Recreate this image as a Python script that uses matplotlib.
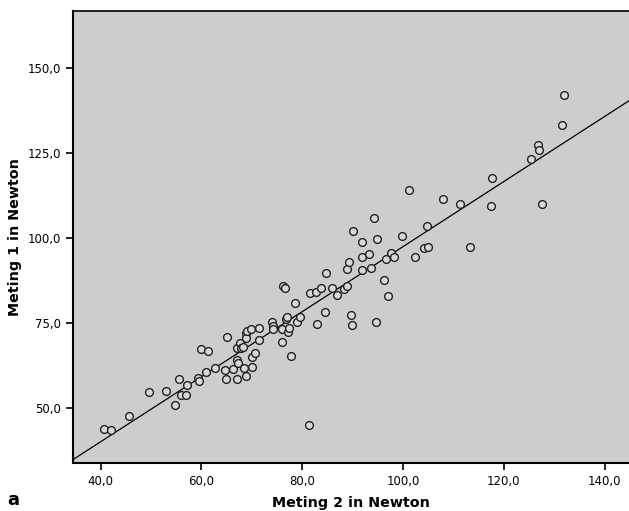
import matplotlib
matplotlib.use('Agg')
import matplotlib.pyplot as plt
import numpy as np
from matplotlib.ticker import FuncFormatter

# Meting 2 (x) en Meting 1 (y) in Newton
meting2 = [40.7, 42.0, 45.7, 49.6, 52.9, 54.7, 55.6, 56.0, 56.9, 57.1,
           59.3, 59.5, 59.9, 61.4, 61.0, 62.6, 64.6, 64.8, 65.1, 66.2,
           67.0, 67.0, 67.2, 67.0, 67.6, 67.9, 68.2, 68.5, 68.8, 68.8,
           68.9, 69.0, 69.8, 70.0, 70.1, 70.6, 71.5, 71.5, 74.1, 74.2,
           74.2, 75.9, 76.0, 76.2, 76.6, 76.7, 77.0, 77.1, 77.3, 77.7,
           78.5, 79.0, 79.5, 81.3, 81.5, 82.8, 83.0, 83.8, 84.5, 84.8,
           85.9, 86.9, 88.2, 88.8, 88.8, 89.2, 89.7, 89.9, 90.0, 91.8,
           91.9, 91.8, 93.3, 93.7, 94.2, 94.7, 94.9, 96.2, 96.6, 97.1,
           97.7, 98.3, 99.8, 101.2, 102.4, 104.1, 105.0, 104.8, 108.0, 111.3,
           113.3, 117.5, 117.7, 125.4, 126.7, 126.9, 127.6, 131.5, 132.0]
meting1 = [43.7, 43.4, 47.6, 54.6, 55.0, 50.9, 58.5, 53.7, 53.8, 56.9,
           58.9, 57.9, 67.4, 66.9, 60.5, 61.8, 61.1, 58.5, 70.8, 61.6,
           58.6, 64.2, 63.1, 67.7, 69.0, 67.6, 68.0, 61.7, 59.4, 72.1,
           70.5, 72.7, 73.2, 62.1, 65.1, 66.1, 73.4, 69.9, 75.2, 74.2,
           73.3, 73.3, 69.3, 86.0, 85.2, 76.3, 76.7, 72.3, 73.6, 65.4,
           80.9, 75.2, 76.7, 45.1, 83.7, 84.2, 74.6, 85.3, 78.2, 89.6,
           85.3, 83.3, 85.1, 85.8, 90.9, 92.9, 77.4, 74.4, 102.1, 94.3,
           98.9, 90.5, 95.4, 91.1, 105.8, 75.4, 99.7, 87.7, 93.7, 82.9,
           95.5, 94.3, 100.5, 114.0, 94.4, 97.1, 97.4, 103.6, 111.6, 110.0,
           97.4, 109.3, 117.7, 123.2, 127.4, 126.0, 110.0, 133.4, 142.1]

x_ticks = [40, 60, 80, 100, 120, 140]
y_ticks = [50, 75, 100, 125, 150]

fig = plt.figure(figsize=(6.29, 5.11), dpi=100)
ax = fig.add_axes([0.1156, 0.0945, 0.884, 0.884])
ax.set_facecolor('#cdcdcd')

# Regressielijn
slope, intercept = np.polyfit(meting2, meting1, 1)
xl = np.array([34.46, 144.8])
ax.plot(xl, intercept + slope * xl, color='black', linewidth=0.9)

# Punten
ax.plot(meting2, meting1, linestyle='none', marker='o', markersize=5.6,
        markerfacecolor='#d8d8d8', markeredgecolor='#222222', markeredgewidth=1.0)

ax.set_xlim(34.46, 144.8)
ax.set_ylim(33.9, 166.8)
ax.set_xticks(x_ticks)
ax.set_yticks(y_ticks)
fmt = FuncFormatter(lambda v, p: f'{v:.1f}'.replace('.', ','))
ax.xaxis.set_major_formatter(fmt)
ax.yaxis.set_major_formatter(fmt)
ax.tick_params(direction='out', length=5, width=1.2, labelsize=8.5, colors='black')

for s in ['left', 'bottom']:
    ax.spines[s].set_linewidth(1.5)
ax.spines['top'].set_linewidth(1.2)
ax.spines['right'].set_visible(False)

ax.set_xlabel('Meting 2 in Newton', fontsize=10.3, fontweight='bold', labelpad=6)
ax.set_ylabel('Meting 1 in Newton', fontsize=10.3, fontweight='bold', labelpad=4)

fig.text(0.012, 0.012, 'a', fontsize=13, fontweight='bold')

fig.savefig('out.png', dpi=100, facecolor='white')
